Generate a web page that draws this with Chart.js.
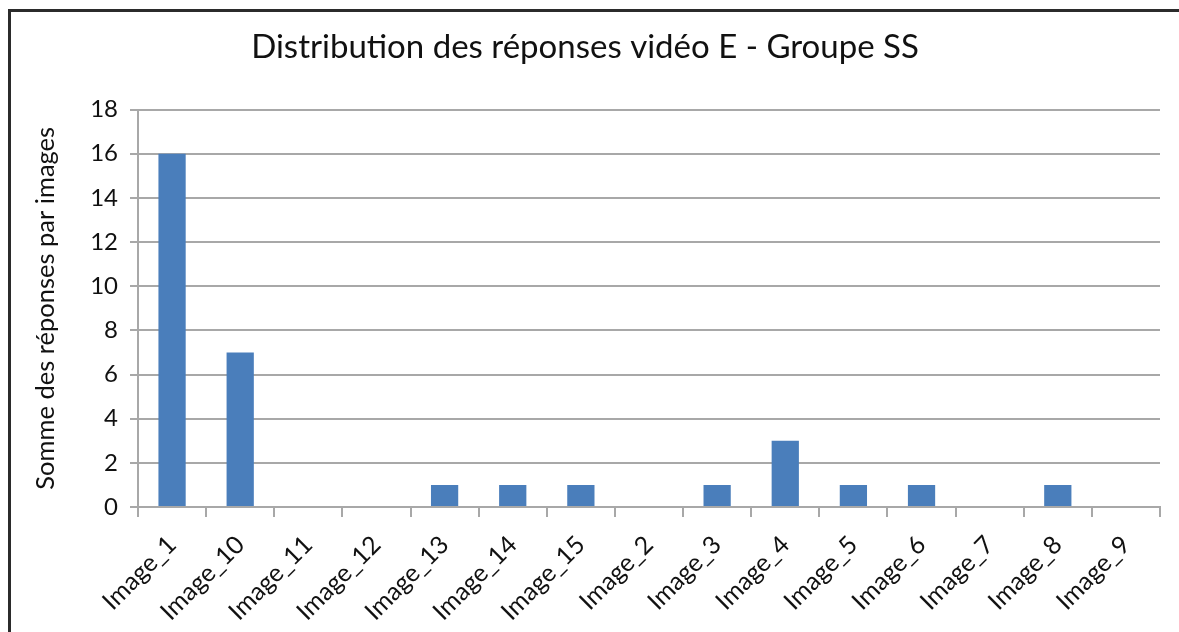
<!DOCTYPE html>
<html lang="fr">
<head>
<meta charset="utf-8">
<script src="https://cdn.jsdelivr.net/npm/chart.js@4.4.1/dist/chart.umd.min.js"></script>
<style>
  html, body { margin: 0; padding: 0; width: 1179px; height: 632px; overflow: hidden; background: #fff; }
  .frame { position: absolute; left: 8px; top: 9px; width: 1300px; height: 700px; border: 3px solid #2b2b2b; background: #fff; }
  .wrap { position: absolute; left: 0; top: 0; width: 1179px; height: 632px; }
</style>
</head>
<body>
<div class="frame"></div>
<div class="wrap"><canvas id="repChart"></canvas></div>
<script>
const images = ['Image_1', 'Image_10', 'Image_11', 'Image_12', 'Image_13', 'Image_14', 'Image_15',
                'Image_2', 'Image_3', 'Image_4', 'Image_5', 'Image_6', 'Image_7', 'Image_8', 'Image_9'];
const sommes = [16, 7, 0, 0, 1, 1, 1, 0, 1, 3, 1, 1, 0, 1, 0];
const yTicks = [0, 2, 4, 6, 8, 10, 12, 14, 16, 18];

const fontFam = 'Lato, "Open Sans", sans-serif';
const gridGrey = '#a8a8a8';

const ctx = document.getElementById('repChart').getContext('2d');
new Chart(ctx, {
    type: 'bar',
    data: {
        labels: images,
        datasets: [{
            label: 'Somme',
            data: sommes,
            backgroundColor: '#4a7ebb',
            borderWidth: 0,
            barPercentage: 0.8,
            categoryPercentage: 0.5
        }]
    },
    options: {
        responsive: true,
        maintainAspectRatio: false,
        animation: false,
        layout: {
            padding: { left: 10, right: 19, top: 0, bottom: 0 }
        },
        plugins: {
            legend: { display: false },
            tooltip: { enabled: false },
            title: {
                display: true,
                text: 'Distribution des réponses vidéo E - Groupe SS',
                color: '#111',
                font: { family: fontFam, size: 33, weight: 'normal' },
                padding: { top: 28, bottom: 42 }
            }
        },
        scales: {
            x: {
                offset: true,
                afterFit: s => { s.height = 125; },
                border: { color: gridGrey, width: 2 },
                grid: {
                    offset: true,
                    drawOnChartArea: false,
                    drawTicks: true,
                    tickLength: 10,
                    color: gridGrey,
                    lineWidth: 2
                },
                ticks: {
                    color: '#111',
                    minRotation: 45,
                    maxRotation: 45,
                    padding: 13,
                    font: { family: fontFam, size: 25 }
                }
            },
            y: {
                min: 0,
                max: 18,
                afterFit: s => { s.width = 128; },
                afterBuildTicks: s => { s.ticks = yTicks.map(v => ({ value: v })); },
                border: { color: gridGrey, width: 2 },
                grid: {
                    color: gridGrey,
                    lineWidth: 2,
                    tickLength: 8
                },
                ticks: {
                    color: '#111',
                    padding: 12,
                    font: { family: fontFam, size: 24 }
                },
                title: {
                    display: true,
                    text: 'Somme des réponses par images',
                    color: '#111',
                    font: { family: fontFam, size: 25.5 },
                    padding: { top: 20, bottom: 0 }
                }
            }
        }
    }
});
</script>
</body>
</html>
